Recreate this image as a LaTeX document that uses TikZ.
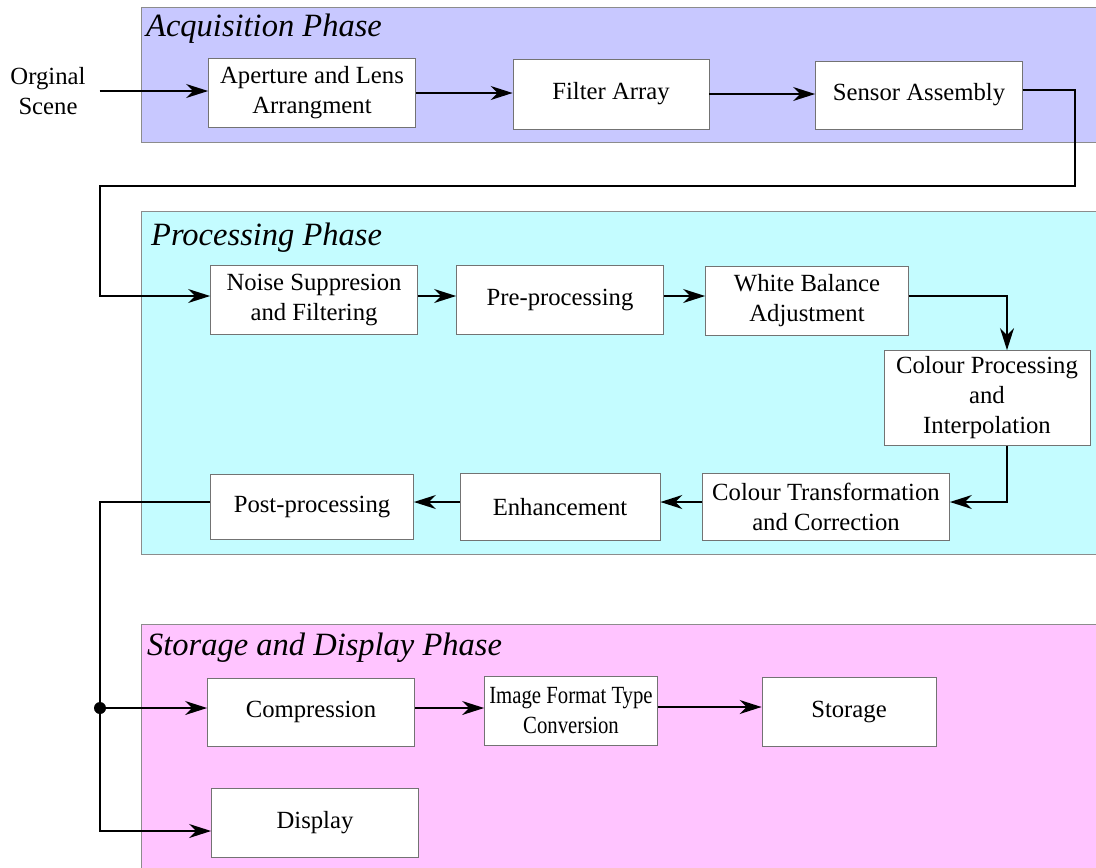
\documentclass[tikz,border=0pt]{standalone}
\usepackage{fontspec}
\setmainfont{Liberation Serif}
\usetikzlibrary{arrows.meta}
\definecolor{acqfill}{HTML}{C8C8FF}
\definecolor{procfill}{HTML}{C4FCFF}
\definecolor{storfill}{HTML}{FFC4FF}
\newcommand{\narrow}[1]{\scalebox{0.84}[1]{#1}}
\begin{document}
\begin{tikzpicture}[x=1pt,y=-1pt,
  box/.style={draw=black!55, line width=0.8pt, fill=white, align=center,
    inner sep=0pt, font=\fontsize{24.7}{30}\selectfont},
  conn/.style={line width=1.6pt, -{Stealth[length=22pt,width=14pt,inset=7pt]}},
  wire/.style={line width=1.6pt},
  panel/.style={draw=black!45, line width=0.8pt},
  phasetitle/.style={anchor=base west, inner sep=0pt,
    font=\fontsize{32.5}{36}\selectfont\itshape}]
\useasboundingbox (0,0) rectangle (1096,868);

% phase panels
\filldraw[panel, fill=acqfill]  (141,7)   rectangle (1110,142);
\filldraw[panel, fill=procfill] (141,211) rectangle (1110,554);
\filldraw[panel, fill=storfill] (141,624) rectangle (1110,880);
\node[phasetitle] (t1) at (146,36)  {Acquisition Phase};
\node[phasetitle] (t2) at (151,245) {Processing Phase};
\node[phasetitle] (t3) at (147,655) {Storage and Display Phase};

% input
\node[align=center, inner sep=0pt, font=\fontsize{24.7}{30}\selectfont] (scene) at (48,91) {Orginal\\Scene};

% acquisition
\node[box, minimum width=207pt, minimum height=69pt] (ap) at (312,93) {Aperture and Lens\\Arrangment};
\node[box, minimum width=196pt, minimum height=70pt] (fa) at (611,94) {Filter Array};
\node[box, minimum width=207pt, minimum height=68pt] (sa) at (919,95) {Sensor Assembly};

% processing
\node[box, minimum width=207pt, minimum height=69pt] (ns) at (314,300) {Noise Suppresion\\and Filtering};
\node[box, minimum width=207pt, minimum height=69pt] (pre) at (560,300) {Pre-processing};
\node[box, minimum width=203pt, minimum height=69pt] (wb) at (807,301) {White Balance\\Adjustment};
\node[box, minimum width=206pt, minimum height=95pt] (cp) at (987,398) {Colour Processing\\and\\Interpolation};
\node[box, minimum width=247pt, minimum height=67pt] (ct) at (826,507) {Colour Transformation\\and Correction};
\node[box, minimum width=200pt, minimum height=67pt] (enh) at (560,507) {Enhancement};
\node[box, minimum width=203pt, minimum height=65pt] (post) at (312,507) {Post-processing};

% storage and display
\node[box, minimum width=207pt, minimum height=68pt] (comp) at (311,712) {Compression};
\node[box, minimum width=173pt, minimum height=69pt] (img) at (571,711) {\narrow{Image Format Type}\\\narrow{Conversion}};
\node[box, minimum width=174pt, minimum height=69pt] (st) at (849,712) {Storage};
\node[box, minimum width=207pt, minimum height=69pt] (disp) at (315,823) {Display};

% routing points
\coordinate (r1) at (1075,186);
\coordinate (l1) at (100,186);
\coordinate (j) at (100,708);

% connectors
\draw[conn] ([xshift=14pt]scene.east) -- (scene.east -| ap.west);
\draw[conn] (ap.east) -- (ap.east -| fa.west);
\draw[conn] (fa.east) -- (fa.east -| sa.west);
\draw[conn] ([yshift=5pt]sa.east) -| (r1) -- (l1) |- ([yshift=4pt]ns.west);
\draw[conn] ([yshift=4pt]ns.east) -- ([yshift=4pt]ns.east -| pre.west);
\draw[conn] ([yshift=4pt]pre.east) -- ([yshift=4pt]pre.east -| wb.west);
\draw[conn] ([yshift=5pt]wb.east) -| ([xshift=20pt]cp.north);
\draw[conn] ([xshift=20pt]cp.south) |- ([yshift=5pt]ct.east);
\draw[conn] ([yshift=5pt]ct.west) -- ([yshift=5pt]ct.west -| enh.east);
\draw[conn] ([yshift=5pt]enh.west) -- ([yshift=5pt]enh.west -| post.east);
\draw[wire] ([yshift=5pt]post.west) -| (j);
\fill (j) circle (6pt);
\draw[conn] (j) -- (j -| comp.west);
\draw[conn] (j) |- ([yshift=-8pt]disp.west);
\draw[conn] ([yshift=4pt]comp.east) -- ([yshift=4pt]comp.east -| img.west);
\draw[conn] ([yshift=4pt]img.east) -- ([yshift=4pt]img.east -| st.west);
\end{tikzpicture}
\end{document}
